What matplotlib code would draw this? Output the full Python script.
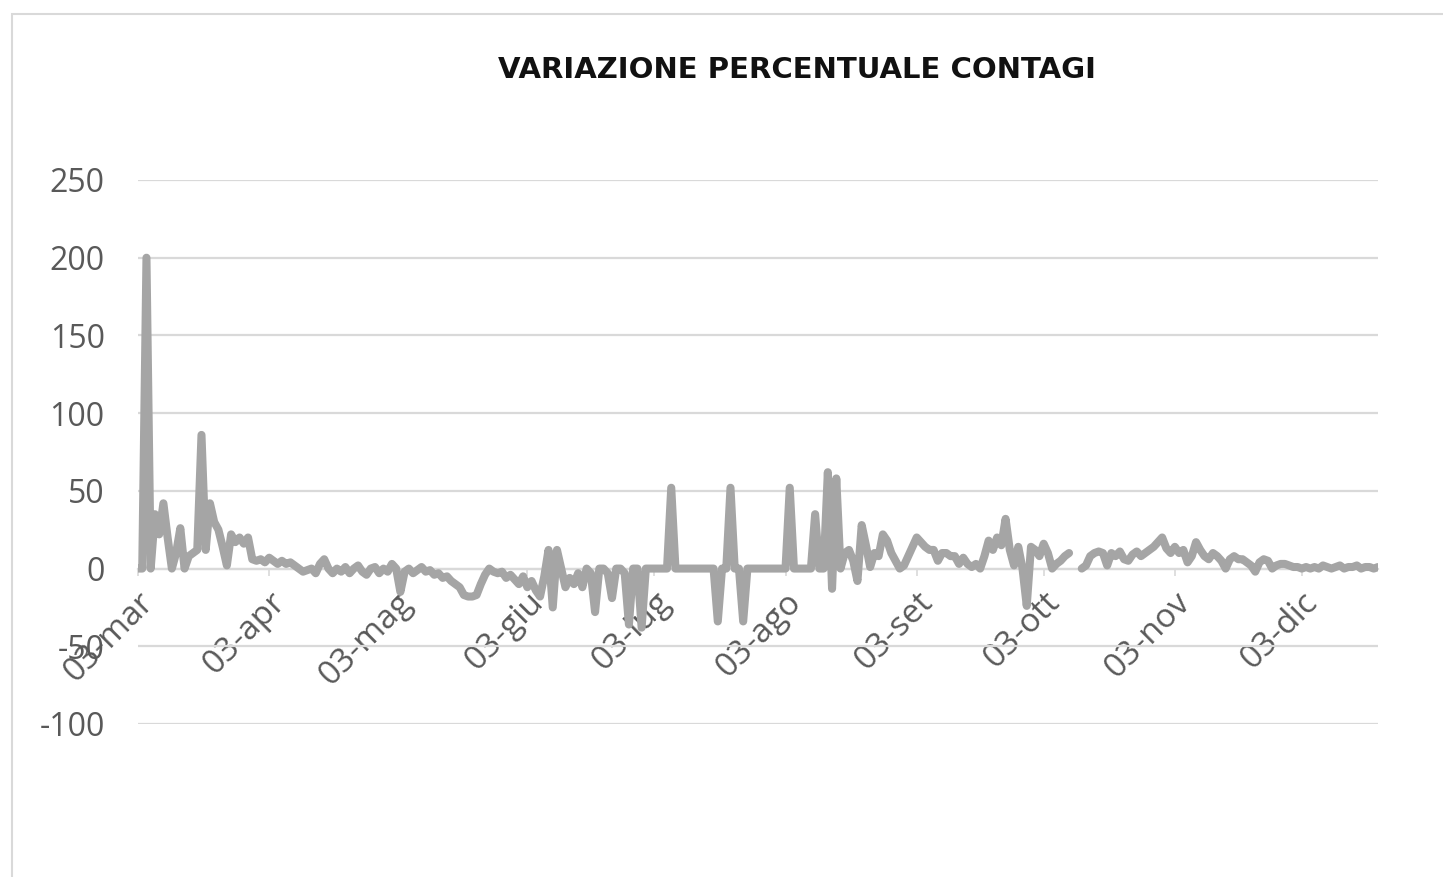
import numpy as np
import matplotlib
matplotlib.use("Agg")
import matplotlib.pyplot as plt
import matplotlib.transforms as mtransforms
from matplotlib.patches import Rectangle

plt.rcParams["font.family"] = ["Open Sans", "DejaVu Sans"]
plt.rcParams["axes.unicode_minus"] = False

# variazione % giornaliera dei contagi, dal 03-mar in avanti (un valore al giorno)
mar = [0, 0, 200, 0, 35, 22, 42, 20, 0, 10, 26, 0, 8, 10, 12, 86, 12, 42, 30, 25,
       14, 2, 22, 17, 20, 16, 20, 6, 5]
apr = [6, 4, 7, 5, 3, 5, 3, 4, 2, 0, -2, -1, 0, -3, 3, 6, 0, -3, 0, -2,
       1, -3, 0, 2, -2, -4, 0, 1, -3, 0]
mag = [-2, 3, 0, -15, -2, 0, -3, -1, 1, -2, -1, -4, -3, -6, -5, -8, -10, -12, -17, -18,
       -18, -17, -10, -4, 0, -2, -3, -2, -6, -4, -7]
giu = [-10, -5, -12, -8, -14, -18, -5, 12, -25, 12, 0, -12, -6, -10, -3, -12, 0, -3, -28, 0,
       0, -3, -19, 0, 0, -3, -36, 0, 0, -38]
lug = [0, 0, 0, 0, 0, 0, 52, 0, 0, 0, 0, 0, 0, 0, 0, 0, 0, -34, 0, 0,
       52, 0, 0, -34, 0, 0, 0, 0, 0, 0, 0]
ago = [0, 0, 0, 52, 0, 0, 0, 0, 0, 35, 0, 0, 62, -13, 58, 0, 10, 12, 5, -8,
       28, 15, 1, 10, 8, 22, 18, 10, 5, 0, 2]
sett = [8, 14, 20, 17, 14, 12, 12, 5, 10, 10, 8, 8, 3, 7, 3, 1, 3, 0, 8, 18,
        12, 20, 15, 32, 12, 2, 14, 0, -24, 14]
ott = [12, 8, 16, 10, 0, 3, 5, 8, 10, np.nan, np.nan, 0, 2, 8, 10, 11, 10, 2, 10, 8,
       11, 6, 5, 9, 11, 8, 10, 12, 14, 17, 20]
nov = [13, 10, 14, 10, 12, 4, 8, 17, 12, 8, 6, 10, 8, 5, 0, 6, 8, 6, 6, 4,
       2, -2, 4, 6, 5, 0, 2, 3, 3, 2]
dic = [1, 1, 0, 1, 0, 1, 0, 2, 1, 0, 1, 2, 0, 1, 1, 2, 0, 1, 1, 0, 1]

values = np.array(mar + apr + mag + giu + lug + ago + sett + ott + nov + dic, dtype=float)
days = np.arange(len(values))

tick_days = [0, 31, 61, 92, 122, 153, 184, 214, 245, 275]
tick_labels = ["03-mar", "03-apr", "03-mag", "03-giu", "03-lug",
               "03-ago", "03-set", "03-ott", "03-nov", "03-dic"]
y_ticks = [-100, -50, 0, 50, 100, 150, 200, 250]

TXT = "#595959"
GRID = "#D9D9D9"

fig = plt.figure(figsize=(14.43, 8.77), dpi=100)
fig.patches.append(Rectangle((12 / 1443, -0.05), 1.1, 1 - 14 / 877 + 0.05,
                             transform=fig.transFigure, fill=False,
                             edgecolor=GRID, lw=1.5))
ax = fig.add_axes([138 / 1443, 1 - 724 / 877, (1378 - 138) / 1443, (724 - 180) / 877])

# spine first: set_position resets the ticks
for s in ["top", "right", "left"]:
    ax.spines[s].set_visible(False)
ax.spines["bottom"].set_position(("data", 0))
ax.spines["bottom"].set_color(GRID)
ax.spines["bottom"].set_linewidth(1.6)

ax.plot(days, values, color="#A5A5A5", lw=5.8, solid_joinstyle="round",
        solid_capstyle="round", zorder=3)

ax.set_xlim(0, days[-1])
ax.set_ylim(-100, 250)
ax.set_yticks(y_ticks)
ax.set_xticks(tick_days)
ax.tick_params(axis="y", length=0, pad=24, labelsize=23, labelcolor=TXT)
ax.tick_params(axis="x", length=5, width=1.2, color=GRID, pad=0,
               labelsize=24, labelcolor=TXT)
ax.set_xticklabels(tick_labels, rotation=45, ha="right", va="center",
                   rotation_mode="anchor")
offset = mtransforms.ScaledTranslation(0.11, -0.22, fig.dpi_scale_trans)
for lab in ax.get_xticklabels():
    lab.set_transform(lab.get_transform() + offset)

ax.grid(axis="y", color=GRID, lw=1.6)
ax.set_axisbelow(True)

fig.text(797 / 1443, 1 - 70 / 877, "VARIAZIONE PERCENTUALE CONTAGI",
         ha="center", va="center", fontsize=21, fontweight="bold",
         family=["DejaVu Sans"], color="#111111")

fig.savefig("out.png", dpi=100)
